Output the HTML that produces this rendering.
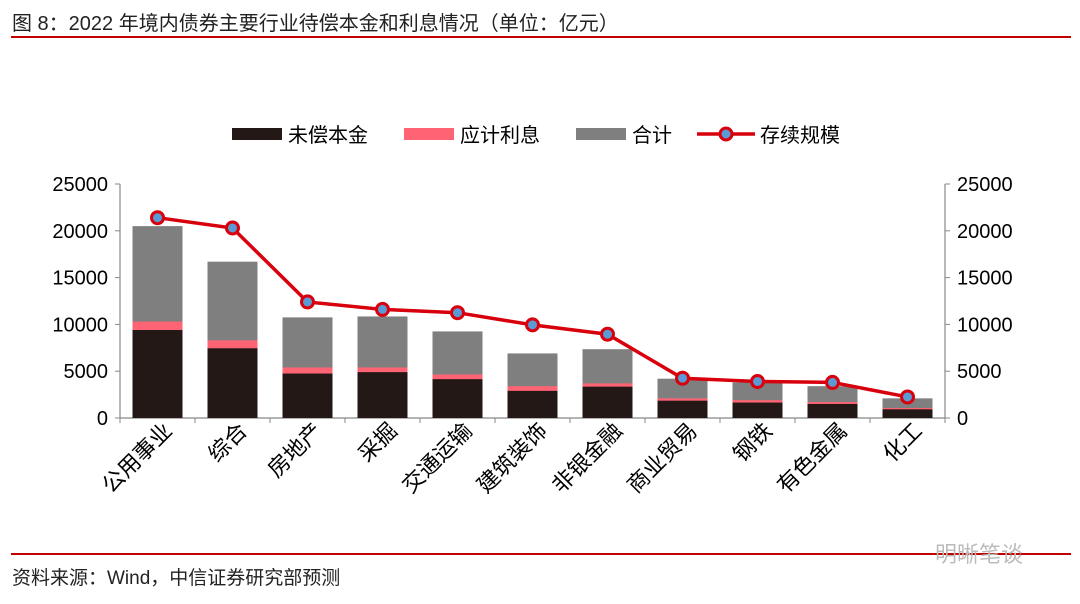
<!DOCTYPE html>
<html><head><meta charset="utf-8"><style>
body{margin:0;background:#fff;}
svg{display:block;font-family:"Liberation Sans","Noto Sans CJK SC",sans-serif;}
</style></head><body>
<svg id="chart" width="1080" height="604" xmlns="http://www.w3.org/2000/svg">
<text x="12" y="30" font-size="20" fill="#222">图 8：2022 年境内债券主要行业待偿本金和利息情况（单位：亿元）</text>
<rect x="11" y="36" width="1060" height="2" fill="#c00000"/>
<rect x="11" y="553" width="1060" height="2" fill="#c00000"/>
<text x="12" y="584" font-size="19" fill="#222">资料来源：Wind，中信证券研究部预测</text>
<text x="935" y="562" font-size="22" fill="#bbb">明晰笔谈</text>
<g id="legend">
<rect x="232" y="128" width="50" height="12" fill="#231816"/>
<text x="288" y="142" font-size="20" fill="#000">未偿本金</text>
<rect x="404" y="128" width="50" height="12" fill="#ff6474"/>
<text x="460" y="142" font-size="20" fill="#000">应计利息</text>
<rect x="576" y="128" width="50" height="12" fill="#7f7f7f"/>
<text x="632" y="142" font-size="20" fill="#000">合计</text>
<line x1="697" y1="134" x2="755" y2="134" stroke="#d9000d" stroke-width="3.5"/>
<circle cx="726" cy="134" r="6" fill="#5b9bd5" stroke="#d9000d" stroke-width="3"/>
<text x="760" y="142" font-size="20" fill="#000">存续规模</text>
</g>
<g id="plot"></g>
</svg>
<script>
const categories=["公用事业","综合","房地产","采掘","交通运输","建筑装饰","非银金融","商业贸易","钢铁","有色金属","化工"];
const principal=[9400,7450,4750,4900,4150,2900,3350,1850,1650,1500,930];
const interest=[900,850,650,500,500,500,350,250,250,200,140];
const total=[20500,16700,10750,10850,9250,6900,7350,4200,3800,3400,2100];
const scale=[21400,20300,12400,11600,11250,9950,8950,4250,3900,3800,2250];
const ticks=[0,5000,10000,15000,20000,25000];
const NS="http://www.w3.org/2000/svg";
const g=document.getElementById('plot');
const X0=120,X1=945,Y0=418,Y1=184,MAX=25000;
const step=(X1-X0)/categories.length;
const y=v=>Y0-(v/MAX)*(Y0-Y1);
const cx=i=>X0+step*(i+0.5);
function mk(t,a){const e=document.createElementNS(NS,t);for(const k in a)e.setAttribute(k,a[k]);g.appendChild(e);return e;}
let e;
e=mk('line',{x1:X0,y1:Y1,x2:X0,y2:Y0,stroke:'#888','stroke-width':1.2});


e=mk('line',{x1:X1,y1:Y1,x2:X1,y2:Y0,stroke:'#888','stroke-width':1.2});


e=mk('line',{x1:X0,y1:Y0,x2:X1,y2:Y0,stroke:'#888','stroke-width':1.2});


ticks.forEach(t=>{
 mk('line',{x1:X0-5,y1:y(t),x2:X0,y2:y(t),stroke:'#888'});
 mk('line',{x1:X1,y1:y(t),x2:X1+5,y2:y(t),stroke:'#888'});
 e=mk('text',{x:X0-12,y:y(t)+7,'font-size':20,'text-anchor':'end',fill:'#000'});e.textContent=t;
 
 
 e=mk('text',{x:X1+12,y:y(t)+7,'font-size':20,'text-anchor':'start',fill:'#000'});e.textContent=t;
 
 
});
for(let i=0;i<=categories.length;i++){mk('line',{x1:X0+step*i,y1:Y0,x2:X0+step*i,y2:Y0+5,stroke:'#888'});}
categories.forEach((c,i)=>{
 const bw=50,bx=cx(i)-bw/2;
 e=mk('rect',{x:bx,y:y(total[i]),width:bw,height:Y0-y(total[i]),fill:'#7f7f7f'});
 
 
 const top=principal[i]+interest[i];
 e=mk('rect',{x:bx,y:y(top),width:bw,height:Y0-y(top),fill:'#ff6474'});
 
 
 e=mk('rect',{x:bx,y:y(principal[i]),width:bw,height:Y0-y(principal[i]),fill:'#231816'});
 
 
 e=mk('text',{transform:`translate(${cx(i)+16},${Y0+14}) rotate(-45)`,'font-size':22,'text-anchor':'end',fill:'#000'});e.textContent=c;
 
 
});
e=mk('polyline',{points:scale.map((v,i)=>cx(i)+','+y(v)).join(' '),fill:'none',stroke:'#d9000d','stroke-width':3.5});


scale.forEach((v,i)=>{
 e=mk('circle',{cx:cx(i),cy:y(v),r:6,fill:'#5b9bd5',stroke:'#d9000d','stroke-width':3});
 
 
});
</script>
</body></html>
